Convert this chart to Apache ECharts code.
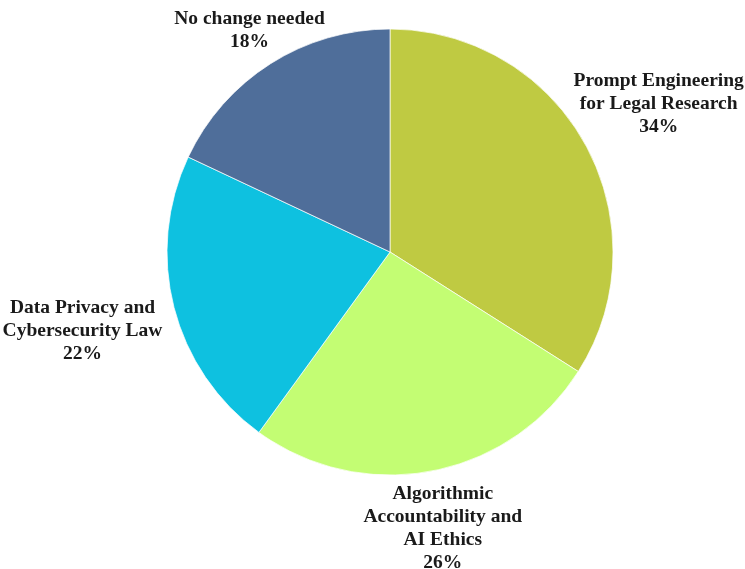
<!DOCTYPE html>
<html>
<head>
<meta charset="utf-8">
<style>
  html, body { margin: 0; padding: 0; background: #ffffff; }
  #chart { width: 745px; height: 569px; }
</style>
<script src="https://cdn.jsdelivr.net/npm/echarts@6/dist/echarts.min.js"></script>
</head>
<body>
<div id="chart"></div>
<script>
// Training topics and their share of responses (percent)
const categories = [
  'Prompt Engineering\nfor Legal Research',
  'Algorithmic\nAccountability and\nAI Ethics',
  'Data Privacy and\nCybersecurity Law',
  'No change needed'
];
const shares = [34, 26, 22, 18];
const colors = ['#bfca42', '#c3fd73', '#0ec1e0', '#4f6e9a'];

// Pie geometry
const CX = 390, CY = 252, R = 223, START = 90, GAP = 12;

const total = shares.reduce((a, b) => a + b, 0);
// mid-angle (degrees, counter-clockwise from +x) for each slice, drawn clockwise from START
const midAngles = [];
let acc = 0;
shares.forEach(v => {
  const a0 = START - acc / total * 360;
  const a1 = START - (acc + v) / total * 360;
  midAngles.push((a0 + a1) / 2);
  acc += v;
});

const chart = echarts.init(document.getElementById('chart'));
chart.setOption({
  animation: false,
  series: [{
    type: 'pie',
    center: [CX, CY],
    radius: R,
    startAngle: START,
    clockwise: true,
    data: categories.map((name, i) => ({
      name, value: shares[i], itemStyle: { color: colors[i] }
    })),
    itemStyle: { borderColor: 'rgba(255,255,255,0.7)', borderWidth: 1 },
    label: {
      show: true,
      position: 'outside',
      formatter: p => p.name + '\n' + p.value + '%',
      fontFamily: 'Liberation Serif, DejaVu Serif, serif',
      fontWeight: 'bold',
      fontSize: 19.5,
      lineHeight: 23,
      color: '#1a1a1a',
      align: 'center',
      overflow: 'none'
    },
    labelLine: { show: false },
    labelLayout: function (p) {
      const ang = midAngles[p.dataIndex] * Math.PI / 180;
      const c = Math.cos(ang), s = Math.sin(ang);
      const w = p.labelRect.width, h = p.labelRect.height;
      const ext = Math.min(
        Math.abs(c) > 1e-6 ? w / 2 / Math.abs(c) : Infinity,
        Math.abs(s) > 1e-6 ? h / 2 / Math.abs(s) : Infinity
      );
      const d = R + GAP + ext;
      return {
        x: CX + d * c,
        y: CY - d * s,
        align: 'center',
        verticalAlign: 'middle'
      };
    }
  }]
});
</script>
</body>
</html>
